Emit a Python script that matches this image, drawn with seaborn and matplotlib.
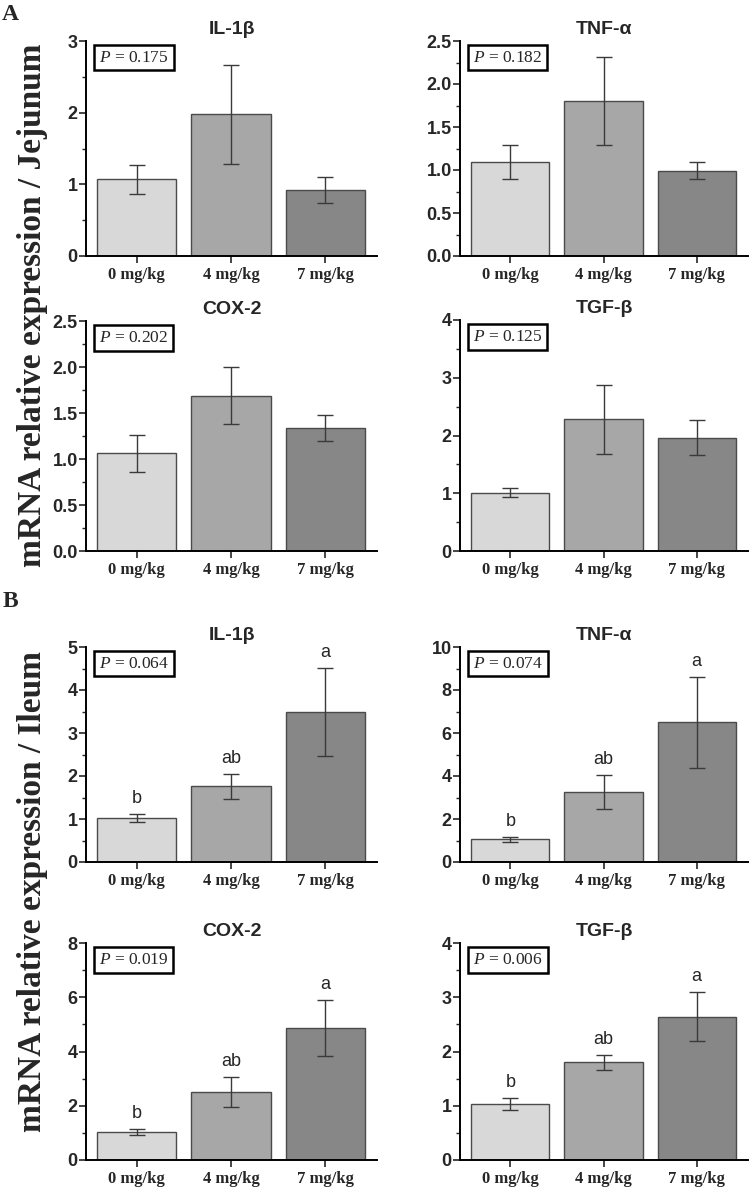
import matplotlib
matplotlib.use('Agg')
import matplotlib.pyplot as plt
from matplotlib.ticker import MultipleLocator, AutoMinorLocator, FormatStrFormatter
import seaborn as sns
import numpy as np

doses = ['0 mg/kg', '4 mg/kg', '7 mg/kg']
bar_colors = ['#d8d8d8', '#a7a7a7', '#878787']

# Jejunum (panel A)
jej_il1b_mean = [1.07, 1.98, 0.92]
jej_il1b_sem = [0.20, 0.69, 0.18]
jej_tnfa_mean = [1.09, 1.80, 0.99]
jej_tnfa_sem = [0.20, 0.51, 0.10]
jej_cox2_mean = [1.06, 1.69, 1.34]
jej_cox2_sem = [0.20, 0.31, 0.14]
jej_tgfb_mean = [1.01, 2.28, 1.96]
jej_tgfb_sem = [0.08, 0.60, 0.30]

# Ileum (panel B)
ile_il1b_mean = [1.02, 1.76, 3.49]
ile_il1b_sem = [0.09, 0.29, 1.02]
ile_tnfa_mean = [1.05, 3.25, 6.50]
ile_tnfa_sem = [0.13, 0.79, 2.12]
ile_cox2_mean = [1.03, 2.51, 4.86]
ile_cox2_sem = [0.12, 0.54, 1.04]
ile_tgfb_mean = [1.03, 1.80, 2.64]
ile_tgfb_sem = [0.11, 0.14, 0.45]

genes = ['IL-1β', 'TNF-α', 'COX-2', 'TGF-β']
jej_pvals = ['0.175', '0.182', '0.202', '0.125']
ile_pvals = ['0.064', '0.074', '0.019', '0.006']
ile_letters = ['b', 'ab', 'a']

sns.set_style('ticks')
plt.rcParams['font.family'] = ['Liberation Sans', 'DejaVu Sans']
plt.rcParams['mathtext.fontset'] = 'custom'
plt.rcParams['mathtext.it'] = 'Liberation Serif:italic'
plt.rcParams['mathtext.rm'] = 'Liberation Serif'

W, H = 750, 1189
fig = plt.figure(figsize=(7.5, 11.89), dpi=100)


def axes_px(x0, x1, ytop, ybot):
    return fig.add_axes([x0 / W, 1 - ybot / H, (x1 - x0) / W, (ybot - ytop) / H])


def draw(ax, title, means, sems, ymax, step, pval, letters=None, fmt='%d'):
    sns.barplot(x=doses, y=means, hue=doses, palette=bar_colors, legend=False,
                edgecolor='#4a4a4a', linewidth=1.0, width=0.84, saturation=1, ax=ax)
    ax.errorbar(range(3), means, yerr=sems, fmt='none', ecolor='#3a3a3a',
                elinewidth=1.0, capsize=6, capthick=1.0)
    ax.set_xlim(-0.54, 2.55)
    ax.set_ylim(0, ymax)
    ax.yaxis.set_major_locator(MultipleLocator(step))
    ax.yaxis.set_minor_locator(AutoMinorLocator(2))
    ax.yaxis.set_major_formatter(FormatStrFormatter(fmt))
    for s in ['top', 'right']:
        ax.spines[s].set_visible(False)
    for s in ['left', 'bottom']:
        ax.spines[s].set_linewidth(1.4)
        ax.spines[s].set_color('black')
    ax.tick_params(axis='y', which='major', length=5, width=1.2, labelsize=13, pad=1)
    ax.tick_params(axis='y', which='minor', length=3, width=1.0)
    ax.tick_params(axis='x', length=5, width=1.2, pad=3)
    for lab in ax.get_yticklabels():
        lab.set_fontweight('bold')
    ax.set_xticks(range(3))
    ax.set_xticklabels(doses, fontfamily='Liberation Serif', fontweight='bold', fontsize=12)
    ax.set_xlabel('')
    ax.set_ylabel('')
    ax.set_title(title, fontsize=14, fontweight='bold', pad=5)
    ax.text(0.045, 0.96, '$P$ = ' + pval, transform=ax.transAxes, ha='left', va='top',
            fontfamily='Liberation Serif', fontsize=12.5,
            bbox=dict(boxstyle='square,pad=0.28', facecolor='white', edgecolor='black', linewidth=1.8))
    if letters:
        for i, l in enumerate(letters):
            ax.annotate(l, (i, means[i] + sems[i]), xytext=(0, 5), textcoords='offset points',
                        ha='center', va='bottom', fontsize=13)


lx0, lx1 = 86, 377
rx0, rx1 = 460, 748

draw(axes_px(lx0, lx1, 41, 256), genes[0], jej_il1b_mean, jej_il1b_sem, 3, 1, jej_pvals[0])
draw(axes_px(rx0, rx1, 41, 256), genes[1], jej_tnfa_mean, jej_tnfa_sem, 2.5, 0.5, jej_pvals[1], fmt='%.1f')
draw(axes_px(lx0, lx1, 321, 551), genes[2], jej_cox2_mean, jej_cox2_sem, 2.5, 0.5, jej_pvals[2], fmt='%.1f')
draw(axes_px(rx0, rx1, 320, 551), genes[3], jej_tgfb_mean, jej_tgfb_sem, 4, 1, jej_pvals[3])

draw(axes_px(lx0, lx1, 647, 862), genes[0], ile_il1b_mean, ile_il1b_sem, 5, 1, ile_pvals[0], ile_letters)
draw(axes_px(rx0, rx1, 647, 862), genes[1], ile_tnfa_mean, ile_tnfa_sem, 10, 2, ile_pvals[1], ile_letters)
draw(axes_px(lx0, lx1, 943, 1160), genes[2], ile_cox2_mean, ile_cox2_sem, 8, 2, ile_pvals[2], ile_letters)
draw(axes_px(rx0, rx1, 943, 1160), genes[3], ile_tgfb_mean, ile_tgfb_sem, 4, 1, ile_pvals[3], ile_letters)

fig.text(0.044, 0.743, 'mRNA relative expression / Jejunum', rotation=90, ha='center', va='center',
         fontfamily='Liberation Serif', fontweight='bold', fontsize=24)
fig.text(0.044, 0.25, 'mRNA relative expression / Ileum', rotation=90, ha='center', va='center',
         fontfamily='Liberation Serif', fontweight='bold', fontsize=24)
fig.text(0.003, 0.997, 'A', ha='left', va='top', fontfamily='Liberation Serif', fontweight='bold', fontsize=17)
fig.text(0.003, 0.503, 'B', ha='left', va='top', fontfamily='Liberation Serif', fontweight='bold', fontsize=17)

fig.savefig('out.png', dpi=100, facecolor='white')
